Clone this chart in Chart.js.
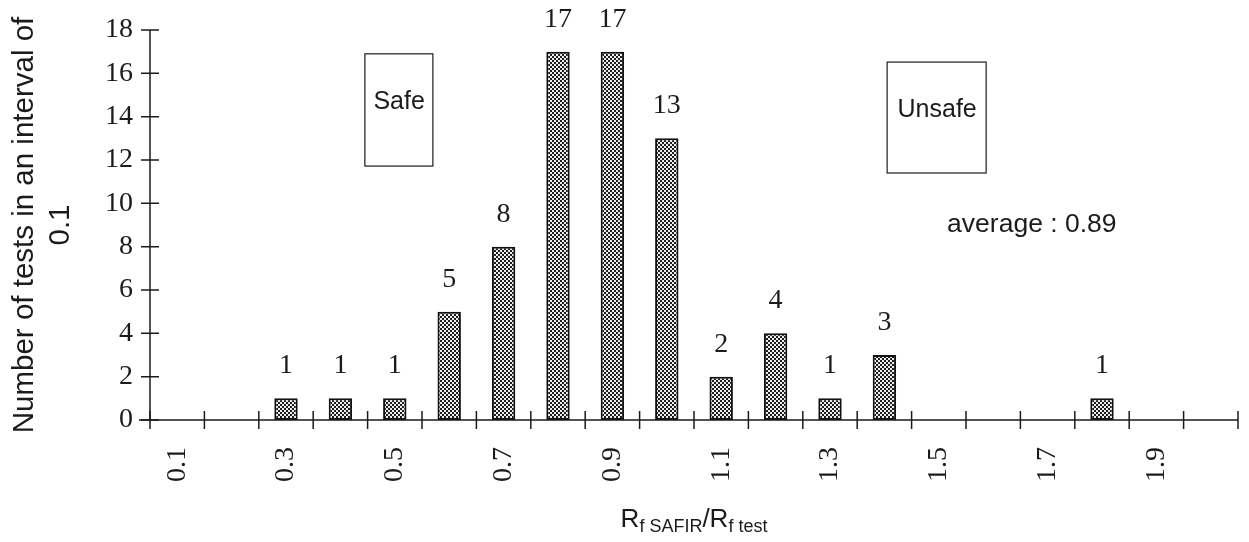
<!DOCTYPE html>
<html>
<head>
<meta charset="utf-8">
<script src="https://cdn.jsdelivr.net/npm/chart.js@4/dist/chart.umd.min.js"></script>
<style>
  html, body { margin: 0; padding: 0; background: #fff; }
  #wrap { width: 1249px; height: 542px; }
</style>
</head>
<body>
<div id="wrap"><canvas id="c" width="1249" height="542"></canvas></div>
<script>
// Ratio intervals (width 0.1) and the number of tests falling in each
const categories = ['0.1','0.2','0.3','0.4','0.5','0.6','0.7','0.8','0.9','1.0',
                    '1.1','1.2','1.3','1.4','1.5','1.6','1.7','1.8','1.9','2.0'];
const testCounts = [0, 0, 1, 1, 1, 5, 8, 17, 17, 13, 2, 4, 1, 3, 0, 0, 0, 1, 0, 0];
// Only every other interval gets a printed label
const tickLabels = ['0.1','0.3','0.5','0.7','0.9','1.1','1.3','1.5','1.7','1.9'];
const yTicks = [0, 2, 4, 6, 8, 10, 12, 14, 16, 18];
const averageText = 'average : 0.89';

const SERIF = '"Liberation Serif", "Times New Roman", serif';
const SANS = '"Liberation Sans", Arial, sans-serif';
const INK = '#1b1b1b';

// Stippled fill used for the bars
function stipple() {
  const p = document.createElement('canvas');
  p.width = 4; p.height = 4;
  const g = p.getContext('2d');
  g.fillStyle = '#eeeeee';
  g.fillRect(0, 0, 4, 4);
  g.fillStyle = '#1e1e1e';
  g.fillRect(0, 0, 2, 2);
  g.fillRect(2, 2, 2, 2);
  return g.createPattern(p, 'repeat');
}

// Framed notes placed in axis units (x: category index, y: count)
const notes = {
  boxes: [
    { text: 'Safe',   x0: 3.45,  x1: 4.70,  y0: 11.72, y1: 16.9,  tx: 4.08,  ty: 14.67 },
    { text: 'Unsafe', x0: 13.05, x1: 14.87, y0: 11.4,  y1: 16.52, tx: 13.97, ty: 14.3 }
  ],
  average: { x: 15.71, y: 9.0 }
};

const decorations = {
  id: 'decorations',
  afterDatasetsDraw(chart) {
    const { ctx, chartArea: ca, scales: { x, y } } = chart;
    ctx.save();
    ctx.strokeStyle = INK;
    ctx.lineWidth = 1.5;

    // axis lines (the horizontal one runs a little past the vertical one)
    const base = y.getPixelForValue(0);
    ctx.beginPath();
    ctx.moveTo(ca.left - 11, base);
    ctx.lineTo(ca.right, base);
    ctx.moveTo(ca.left, base);
    ctx.lineTo(ca.left, y.getPixelForValue(18));
    ctx.stroke();

    // y tick marks crossing the axis
    ctx.beginPath();
    yTicks.forEach(v => {
      const py = y.getPixelForValue(v);
      ctx.moveTo(ca.left - 9, py);
      ctx.lineTo(ca.left + 9, py);
    });
    // x tick marks at interval boundaries, crossing the axis
    for (let i = 0; i <= categories.length; i++) {
      const px = x.getPixelForValue(i - 0.5);
      ctx.moveTo(px, base - 9);
      ctx.lineTo(px, base + 9);
    }
    ctx.stroke();

    // counts above the bars
    const meta = chart.getDatasetMeta(0);
    ctx.fillStyle = INK;
    ctx.font = '28px ' + SERIF;
    ctx.textAlign = 'center';
    ctx.textBaseline = 'alphabetic';
    meta.data.forEach((bar, i) => {
      const v = testCounts[i];
      if (!v) return;
      ctx.fillText(String(v), bar.x, bar.y - 25);
    });

    // framed notes
    ctx.font = '25px ' + SANS;
    ctx.textBaseline = 'middle';
    ctx.lineWidth = 1.2;
    notes.boxes.forEach(b => {
      const l = x.getPixelForValue(b.x0), r = x.getPixelForValue(b.x1);
      const t = y.getPixelForValue(b.y1), btm = y.getPixelForValue(b.y0);
      ctx.strokeRect(l, t, r - l, btm - t);
      ctx.fillText(b.text, x.getPixelForValue(b.tx), y.getPixelForValue(b.ty));
    });
    ctx.font = '26.5px ' + SANS;
    ctx.fillText(averageText, x.getPixelForValue(notes.average.x), y.getPixelForValue(notes.average.y));

    // x axis title with subscripts: R_f SAFIR / R_f test
    const parts = [
      { t: 'R', f: '26px ' + SANS, dy: 0 },
      { t: 'f SAFIR', f: '18px ' + SANS, dy: 5 },
      { t: '/', f: '26px ' + SANS, dy: 0 },
      { t: 'R', f: '26px ' + SANS, dy: 0 },
      { t: 'f test', f: '18px ' + SANS, dy: 5 }
    ];
    ctx.textAlign = 'left';
    ctx.textBaseline = 'alphabetic';
    let total = 0;
    parts.forEach(p => { ctx.font = p.f; p.w = ctx.measureText(p.t).width; total += p.w; });
    let cx = (ca.left + ca.right) / 2 - total / 2;
    const baseY = x.bottom - 15;
    parts.forEach(p => {
      ctx.font = p.f;
      ctx.fillText(p.t, cx, baseY + p.dy);
      cx += p.w;
    });
    ctx.restore();
  }
};

new Chart(document.getElementById('c'), {
  type: 'bar',
  data: {
    labels: categories,
    datasets: [{
      data: testCounts,
      backgroundColor: stipple(),
      borderColor: '#111',
      borderWidth: ctx => (ctx.raw ? 2 : 0),
      borderSkipped: false,
      barPercentage: 0.43,
      categoryPercentage: 1.0
    }]
  },
  options: {
    responsive: false,
    animation: false,
    events: [],
    layout: { padding: { top: 30, right: 11, left: 0, bottom: 0 } },
    plugins: { legend: { display: false }, tooltip: { enabled: false } },
    scales: {
      x: {
        offset: true,
        grid: { display: false, offset: true },
        border: { display: false },
        ticks: {
          autoSkip: false,
          minRotation: 90,
          maxRotation: 90,
          padding: 19,
          color: INK,
          font: { family: SERIF, size: 28 },
          callback: (v, i) => (tickLabels.includes(categories[i]) ? categories[i] : '')
        },
        afterFit: s => { s.height = 122; s.paddingLeft = 0; s.paddingRight = 0; }
      },
      y: {
        min: 0,
        max: 18,
        grid: { display: false },
        border: { display: false },
        ticks: {
          stepSize: 2,
          padding: 9,
          color: INK,
          font: { family: SERIF, size: 28 }
        },
        title: {
          display: true,
          text: ['Number of tests in an interval of', '0.1'],
          color: INK,
          font: { family: SANS, size: 29.5, lineHeight: 1.25 },
          padding: { top: 6, bottom: 0 }
        },
        afterFit: s => { s.width = 150; }
      }
    }
  },
  plugins: [decorations]
});
</script>
</body>
</html>
